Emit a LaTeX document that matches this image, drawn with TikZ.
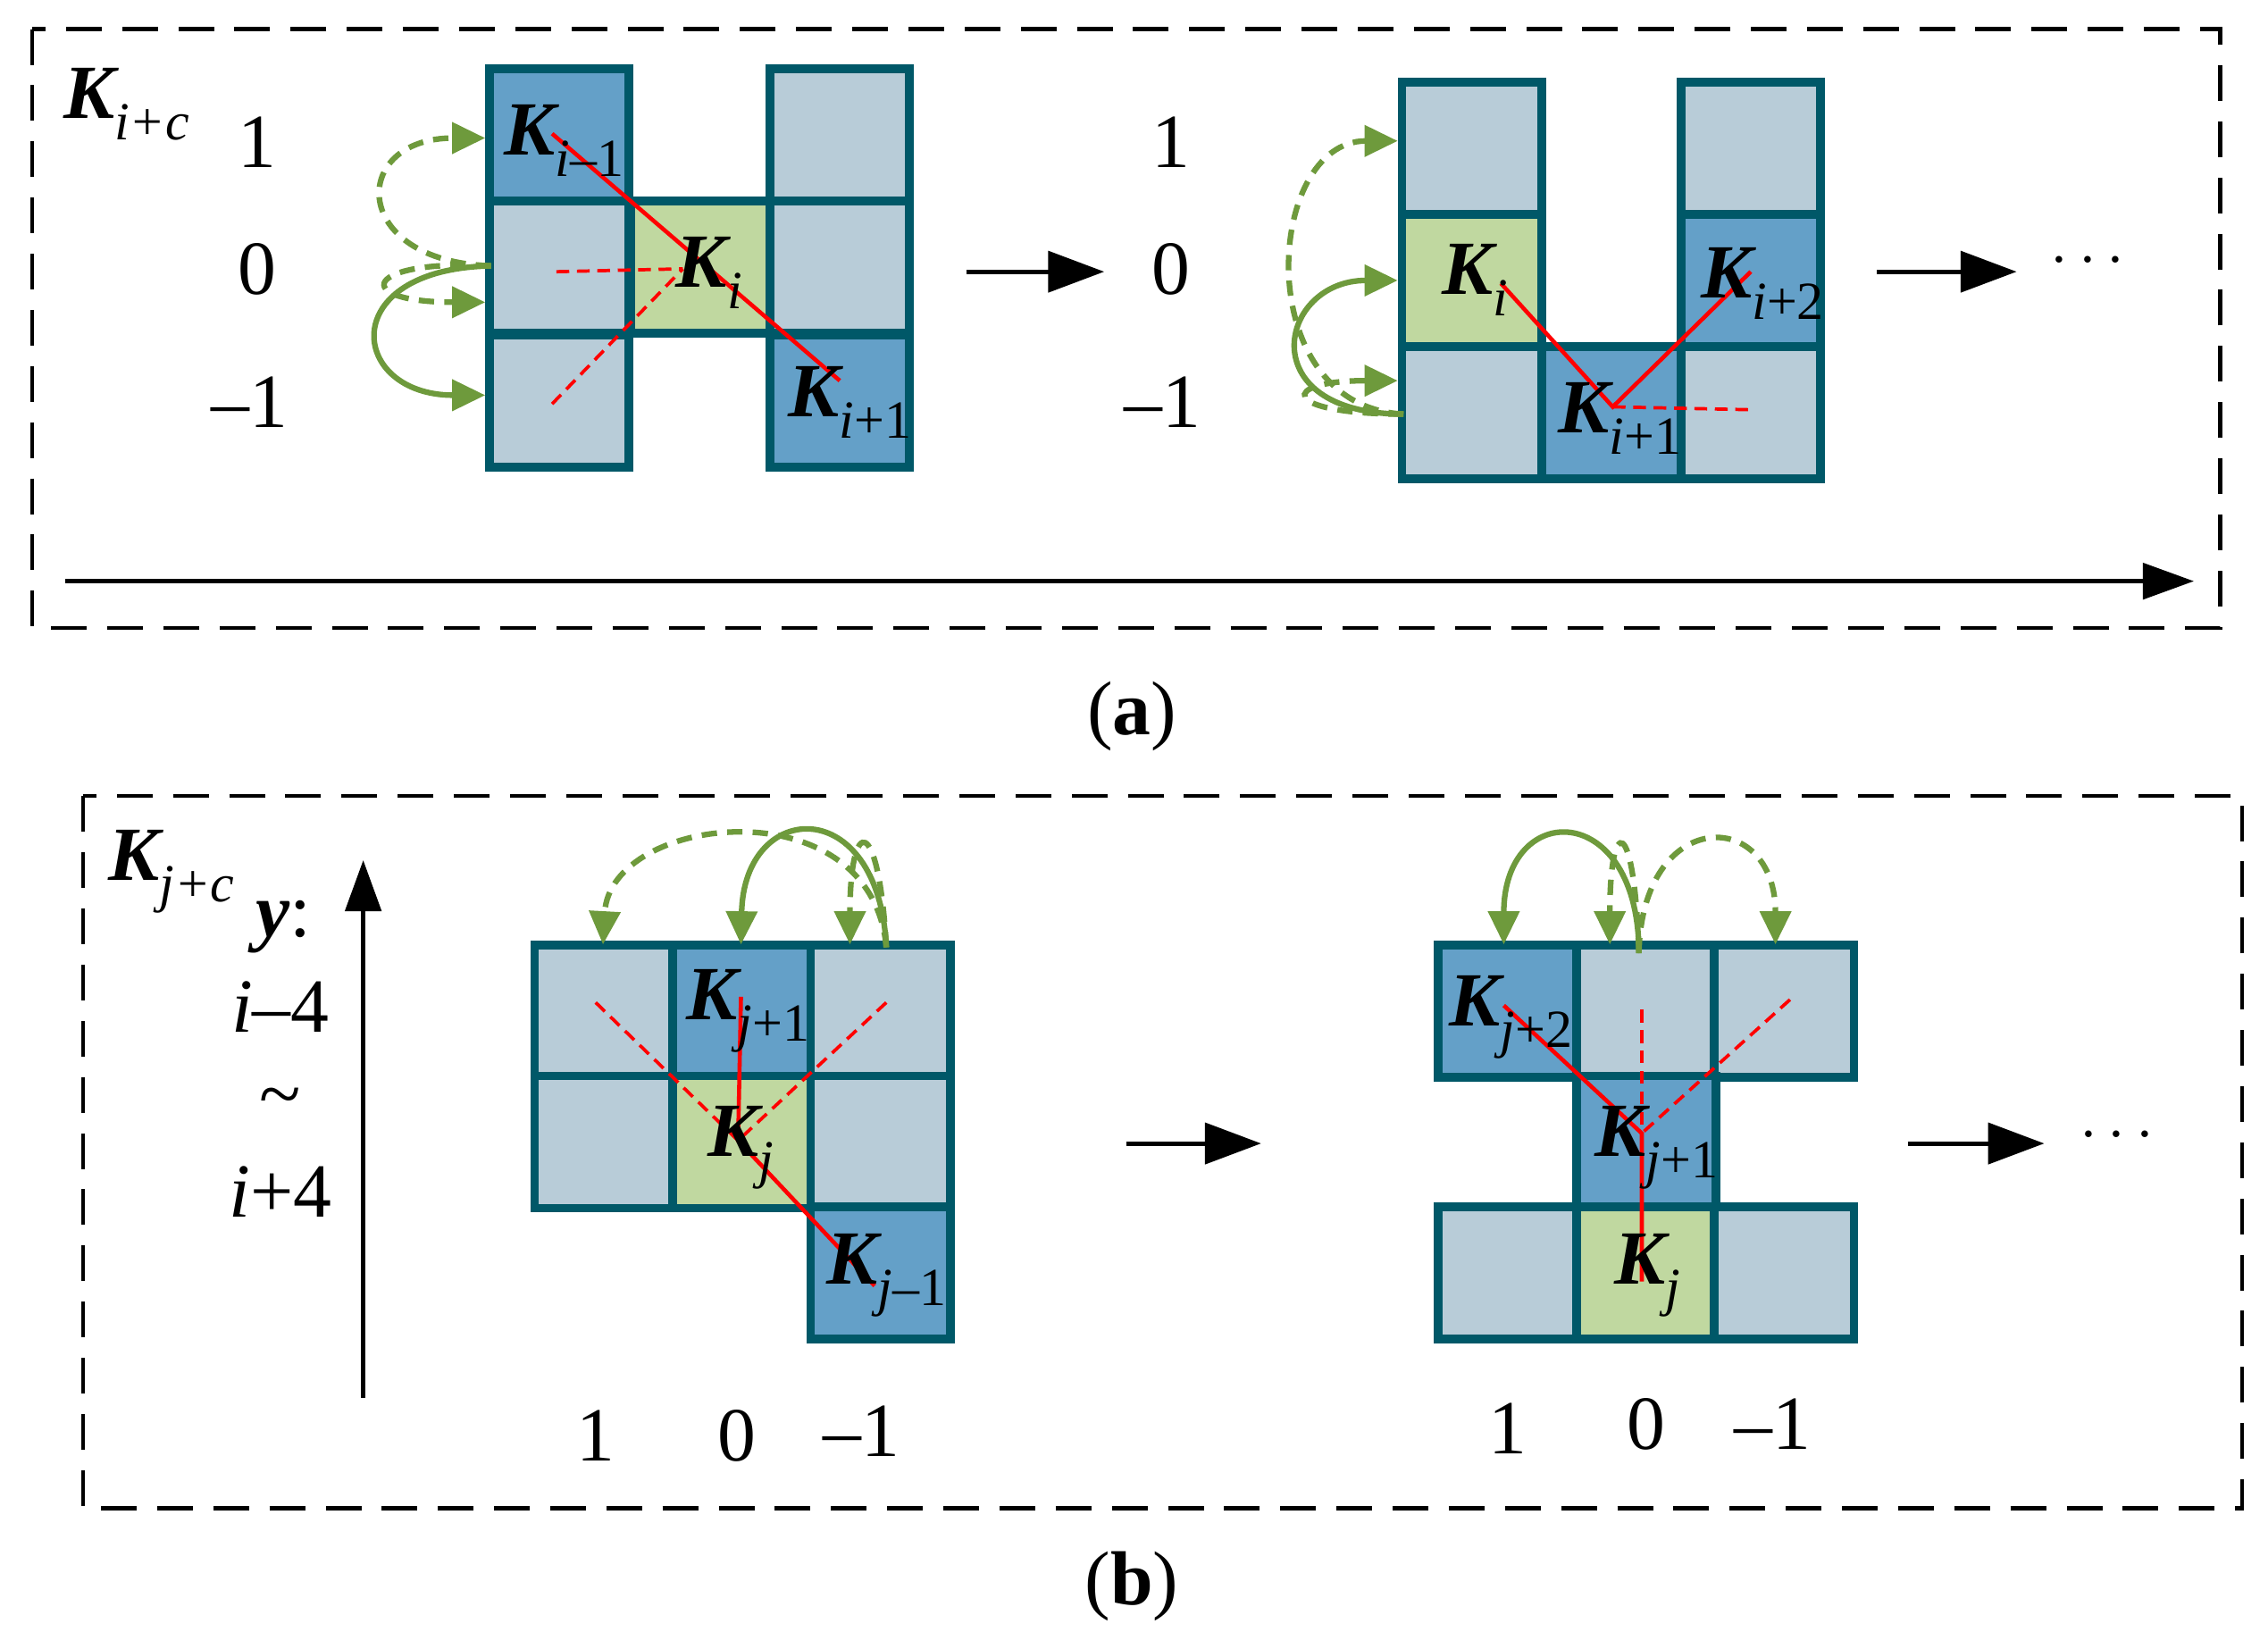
\documentclass[tikz,border=0pt]{standalone}
\usepackage{fontspec}
\setmainfont{Liberation Serif}
\usetikzlibrary{arrows.meta}
\definecolor{lb}{HTML}{B8CCD8}
\definecolor{db}{HTML}{64A0C8}
\definecolor{gr}{HTML}{C0D8A0}
\definecolor{bd}{HTML}{005868}
\definecolor{ag}{HTML}{6E9A3C}
\newcommand\KK[2]{{\fontsize{30}{30}\selectfont\bfseries\itshape K}\raisebox{-0.28em}{\fontsize{21}{21}\selectfont\itshape #1\upshape #2}}
\begin{document}
\begin{tikzpicture}[x=0.02cm,y=-0.02cm,
  cell/.style={draw=bd,line width=3.4pt,minimum width=1.92cm,minimum height=1.82cm,inner sep=0,outer sep=0},
  L/.style={cell,fill=lb},B/.style={cell,fill=db},G/.style={cell,fill=gr},
  t/.style={font=\fontsize{30}{30}\selectfont,inner sep=0},
  box/.style={draw,line width=1.5pt,dash pattern=on 14pt off 8pt},
  big/.style={line width=1.8pt,-{Triangle[length=22pt,width=16pt]}},
  rs/.style={red,line width=1.6pt},rd/.style={red,line width=1.3pt,dash pattern=on 5pt off 3pt},
  gs/.style={ag,line width=2.2pt,-{Triangle[length=13pt,width=12pt]}},
  gd/.style={gs,dash pattern=on 6pt off 4pt}]
\useasboundingbox (0,0) rectangle (1561,1123);
% boxes
\draw[box] (22,20) rectangle (1528,432);
\draw[box] (57,548) rectangle (1543,1038);
% panel a left grid
\node[B] (a00) at (385,93) {}; \node[L] (a10) at (385,184) {}; \node[L] (a20) at (385,276) {};
\node[G] (a11) at (482,184) {};
\node[L] (a02) at (578,93) {}; \node[L] (a12) at (578,184) {}; \node[B] (a22) at (578,276) {};
% panel a right grid
\node[L] (c00) at (1013,102) {}; \node[G] (c10) at (1013,193) {}; \node[L] (c20) at (1013,284) {};
\node[B] (c21) at (1109,284) {};
\node[L] (c02) at (1205,102) {}; \node[B] (c12) at (1205,193) {}; \node[L] (c22) at (1205,284) {};
% panel b left grid
\node[L] (b00) at (416,696) {}; \node[B] (b01) at (511,696) {}; \node[L] (b02) at (606,696) {};
\node[L] (b10) at (416,786) {}; \node[G] (b11) at (511,786) {}; \node[L] (b12) at (606,786) {};
\node[B] (b22) at (606,876) {};
% panel b right grid
\node[B] (d00) at (1038,696) {}; \node[L] (d01) at (1133,696) {}; \node[L] (d02) at (1228,696) {};
\node[B] (d11) at (1133,786) {};
\node[L] (d20) at (1038,876) {}; \node[G] (d21) at (1133,876) {}; \node[L] (d22) at (1228,876) {};
% red lines a-left
\coordinate (p1) at (380,92); \coordinate (p2) at (470,185); \coordinate (p3) at (578,262);
\coordinate (p4) at (380,278); \coordinate (p5) at (383,187);
\draw[rs] (p1) -- (p3);
\draw[rd] (p4) -- (p2); \draw[rd] (p5) -- (p2);
% red lines a-right
\coordinate (q1) at (1033,195); \coordinate (q2) at (1110,280); \coordinate (q3) at (1205,187); \coordinate (q4) at (1205,282);
\draw[rs] (q1) -- (q2) -- (q3); \draw[rd] (q2) -- (q4);
% red lines b-left
\coordinate (r1) at (510,686); \coordinate (r2) at (508,785); \coordinate (r3) at (602,885);
\coordinate (r4) at (410,690); \coordinate (r5) at (610,690);
\draw[rs] (r1) -- (r2) -- (r3); \draw[rd] (r4) -- (r2); \draw[rd] (r5) -- (r2);
% red lines b-right
\coordinate (s1) at (1035,692); \coordinate (s2) at (1130,780); \coordinate (s3) at (1130,882);
\coordinate (s4) at (1130,695); \coordinate (s5) at (1232,688);
\draw[rs] (s1) -- (s2) -- (s3); \draw[rd] (s4) -- (s2); \draw[rd] (s5) -- (s2);
% cell labels
\node[t] at (388,97) {\KK{i}{–1}};
\node[t] at (488,188) {\KK{i}{}};
\node[t] at (585,277) {\KK{i}{+1}};
\node[t] at (1015,193) {\KK{i}{}};
\node[t] at (1213,195) {\KK{i}{+2}};
\node[t] at (1115,288) {\KK{i}{+1}};
\node[t] at (515,696) {\KK{j}{+1}};
\node[t] at (510,790) {\KK{j}{}};
\node[t] at (610,878) {\KK{j}{–1}};
\node[t] at (1040,700) {\KK{j}{+2}};
\node[t] at (1140,790) {\KK{j}{+1}};
\node[t] at (1134,878) {\KK{j}{}};
% green arrows a-left
\coordinate (ga) at (338,183);
\coordinate (ga1) at (334,95); \coordinate (ga2) at (334,208); \coordinate (ga3) at (334,272);
\draw[gd] (ga) .. controls (240,180) and (240,95) .. (ga1);
\draw[gd] (ga) .. controls (250,178) and (240,208) .. (ga2);
\draw[gs] (ga) .. controls (230,185) and (240,272) .. (ga3);
% green arrows a-right
\coordinate (gb) at (966,285);
\coordinate (gb1) at (962,97); \coordinate (gb2) at (962,193); \coordinate (gb3) at (962,262);
\draw[gd] (gb) .. controls (860,280) and (870,97) .. (gb1);
\draw[gs] (gb) .. controls (860,285) and (880,193) .. (gb2);
\draw[gd] (gb) .. controls (880,285) and (880,262) .. (gb3);
% green arrows b-left
\coordinate (gc) at (610,652);
\coordinate (gc1) at (415,650); \coordinate (gc2) at (510,650); \coordinate (gc3) at (585,650);
\draw[gd] (gc) .. controls (600,540) and (420,560) .. (gc1);
\draw[gs] (gc) .. controls (605,545) and (512,550) .. (gc2);
\draw[gd] (gc) .. controls (605,560) and (585,560) .. (gc3);
% green arrows b-right
\coordinate (gd0) at (1128,656);
\coordinate (gd1) at (1035,650); \coordinate (gd2) at (1108,650); \coordinate (gd3) at (1222,650);
\draw[gs] (gd0) .. controls (1128,550) and (1035,550) .. (gd1);
\draw[gd] (gd0) .. controls (1125,560) and (1108,560) .. (gd2);
\draw[gd] (gd0) .. controls (1130,555) and (1222,555) .. (gd3);
% axis arrows
\coordinate (xa0) at (45,400); \coordinate (xa1) at (1510,400);
\draw[line width=1.8pt,-{Triangle[length=20pt,width=14pt]}] (xa0) -- (xa1);
\coordinate (ya0) at (250,962); \coordinate (ya1) at (250,592);
\draw[line width=1.8pt,-{Triangle[length=20pt,width=14pt]}] (ya0) -- (ya1);
% process arrows
\coordinate (m1) at (665,187); \coordinate (m2) at (760,187);
\coordinate (m3) at (1292,187); \coordinate (m4) at (1388,187);
\coordinate (m5) at (775,787); \coordinate (m6) at (868,787);
\coordinate (m7) at (1313,787); \coordinate (m8) at (1407,787);
\draw[big] (m1) -- (m2); \draw[big] (m3) -- (m4); \draw[big] (m5) -- (m6); \draw[big] (m7) -- (m8);
\node[t] at (1437,180) {$\cdots$};
\node[t] at (1457,782) {$\cdots$};
% axis labels a
\node[t] at (87,72) {\KK{i+c}{}};
\node[t] at (177,98) {1}; \node[t] at (177,185) {0}; \node[t] at (172,277) {–1};
\node[t] at (806,98) {1}; \node[t] at (806,185) {0}; \node[t] at (800,277) {–1};
\node[t] at (779,493) {(\textbf{a})};
% axis labels b
\node[t] at (118,600) {\KK{j+c}{}};
\node[t] at (195,638) {\textbf{\textit{y}}:};
\node[t] at (193,693) {\textit{i}–4};
\node[t] at (193,760) {\textasciitilde};
\node[t] at (193,820) {\textit{i}+4};
\node[t] at (410,988) {1}; \node[t] at (507,988) {0}; \node[t] at (593,985) {–1};
\node[t] at (1038,983) {1}; \node[t] at (1133,980) {0}; \node[t] at (1220,980) {–1};
\node[t] at (779,1092) {(\textbf{b})};
\end{tikzpicture}
\end{document}
